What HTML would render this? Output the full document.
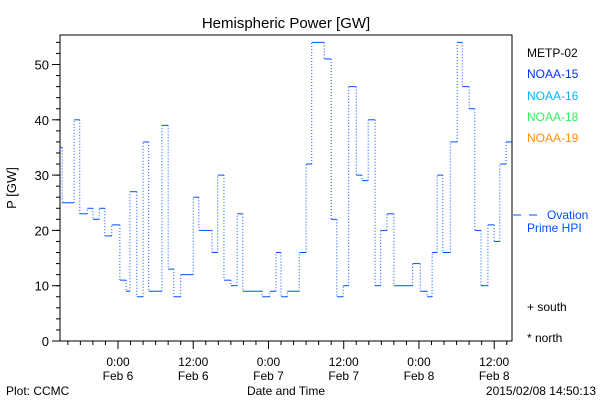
<!DOCTYPE html>
<html><head><meta charset="utf-8"><style>
html,body{margin:0;padding:0;background:#fff;}
svg text{font-family:"Liberation Sans",sans-serif;}
</style></head><body>
<svg id="chart" width="600" height="400" xmlns="http://www.w3.org/2000/svg">
<rect width="600" height="400" fill="#fff"/>
<text x="286" y="28" font-size="15" text-anchor="middle">Hemispheric Power [GW]</text>
<text transform="translate(16,188) rotate(-90)" font-size="13" text-anchor="middle">P [GW]</text>
<text x="286" y="395" font-size="12" text-anchor="middle">Date and Time</text>
<text x="6" y="395" font-size="12">Plot: CCMC</text>
<text x="596" y="395" font-size="12" text-anchor="end">2015/02/08 14:50:13</text>
<g font-size="12">
<text x="527" y="57" fill="#000">METP-02</text>
<text x="527" y="78" fill="#0030ff">NOAA-15</text>
<text x="527" y="100" fill="#00b4ff">NOAA-16</text>
<text x="527" y="121" fill="#30f060">NOAA-18</text>
<text x="527" y="142" fill="#ff9000">NOAA-19</text>
<line x1="513" y1="215" x2="521" y2="215" stroke="#0050ff"/>
<line x1="529" y1="215" x2="537" y2="215" stroke="#0050ff"/>
<text x="547" y="219" fill="#0050ff">Ovation</text>
<text x="527" y="232" fill="#0050ff">Prime HPI</text>
<text x="527" y="311" fill="#000">+ south</text>
<text x="527" y="342" fill="#000">* north</text>
</g>
<g id="axes"></g>
<g id="series"></g>
</svg>
<script>
const startHours=[-9.3,-8.9,-7.0,-6.1,-4.9,-4.0,-3.0,-2.1,-1.0,0.3,1.3,1.9,3.0,4.0,4.9,7.0,8.0,8.9,10.0,12.0,12.9,15.0,15.9,16.9,18.0,19.0,19.9,23.0,24.2,25.2,26.0,27.0,28.9,30.0,30.9,32.9,34.0,34.9,35.9,36.8,38.0,38.9,39.9,41.0,41.9,42.9,44.0,47.0,48.2,49.3,50.1,50.9,51.8,53.0,54.1,54.9,56.0,56.9,57.9,59.0,60.0,60.9,61.9];
const powerValues=[35,25,40,23,24,22,24,19,21,11,9,27,8,36,9,39,13,8,12,26,20,16,30,11,10,23,9,8,9,16,8,9,16,32,54,51,22,8,10,46,30,29,40,10,20,23,10,14,9,8,16,30,16,36,54,46,42,20,10,21,18,32,36];
const endHour=62.8;
const yTicks=[0,10,20,30,40,50];
const xTickHours=[0,12,24,36,48,60];
const xTickLabels=["0:00","12:00","0:00","12:00","0:00","12:00"];
const xTickDates=["Feb 6","Feb 6","Feb 7","Feb 7","Feb 8","Feb 8"];

const L=60,R=512,T=35,B=341;
const X=h=>118+h*6.27;
const Y=v=>B-v*5.53;
const NS="http://www.w3.org/2000/svg";
function mk(tag,attrs,parent){const e=document.createElementNS(NS,tag);for(const k in attrs)e.setAttribute(k,attrs[k]);parent.appendChild(e);return e;}
const ax=document.getElementById('axes');
const frame=mk('rect',{x:L,y:T,width:R-L,height:B-T,fill:'none',stroke:'#000'},ax);


for(let v=0;v<=55;v+=2){
  const t=mk('line',{x1:L-4,x2:L,y1:Y(v),y2:Y(v),stroke:'#000'},ax);
  
  
}
yTicks.forEach(v=>{
  const t=mk('line',{x1:L-8,x2:L,y1:Y(v),y2:Y(v),stroke:'#000'},ax);
  
  
  const l=mk('text',{x:L-11,y:Y(v)+5,'font-size':13,'text-anchor':'end'},ax);
  l.textContent=v;
  
  
});
for(let h=-8;h<=62;h+=2){
  const major=h%12===0;
  const t=mk('line',{x1:X(h),x2:X(h),y1:B,y2:B+(major?8:4),stroke:'#000'},ax);
  
  
}
xTickHours.forEach((h,i)=>{
  const l=mk('text',{x:X(h),y:366,'font-size':12,'text-anchor':'middle'},ax);
  l.textContent=xTickLabels[i];
  
  
  const d=mk('text',{x:X(h),y:380,'font-size':12,'text-anchor':'middle'},ax);
  d.textContent=xTickDates[i];
  
  
});
const sg=document.getElementById('series');


for(let i=0;i<powerValues.length;i++){
  const x1=Math.max(L,X(startHours[i]));
  const x2=i+1<startHours.length?X(startHours[i+1]):Math.min(R,X(endHour));
  if(i>0){
    const s=mk('line',{x1:x1,x2:x1,y1:Y(powerValues[i-1]),y2:Y(powerValues[i]),stroke:'#0050ff','stroke-dasharray':'1,2'},sg);
    
    
  }
  const h=mk('line',{x1:x1,x2:x2,y1:Y(powerValues[i]),y2:Y(powerValues[i]),stroke:'#0050ff'},sg);
  
  
}
</script>
</body></html>
